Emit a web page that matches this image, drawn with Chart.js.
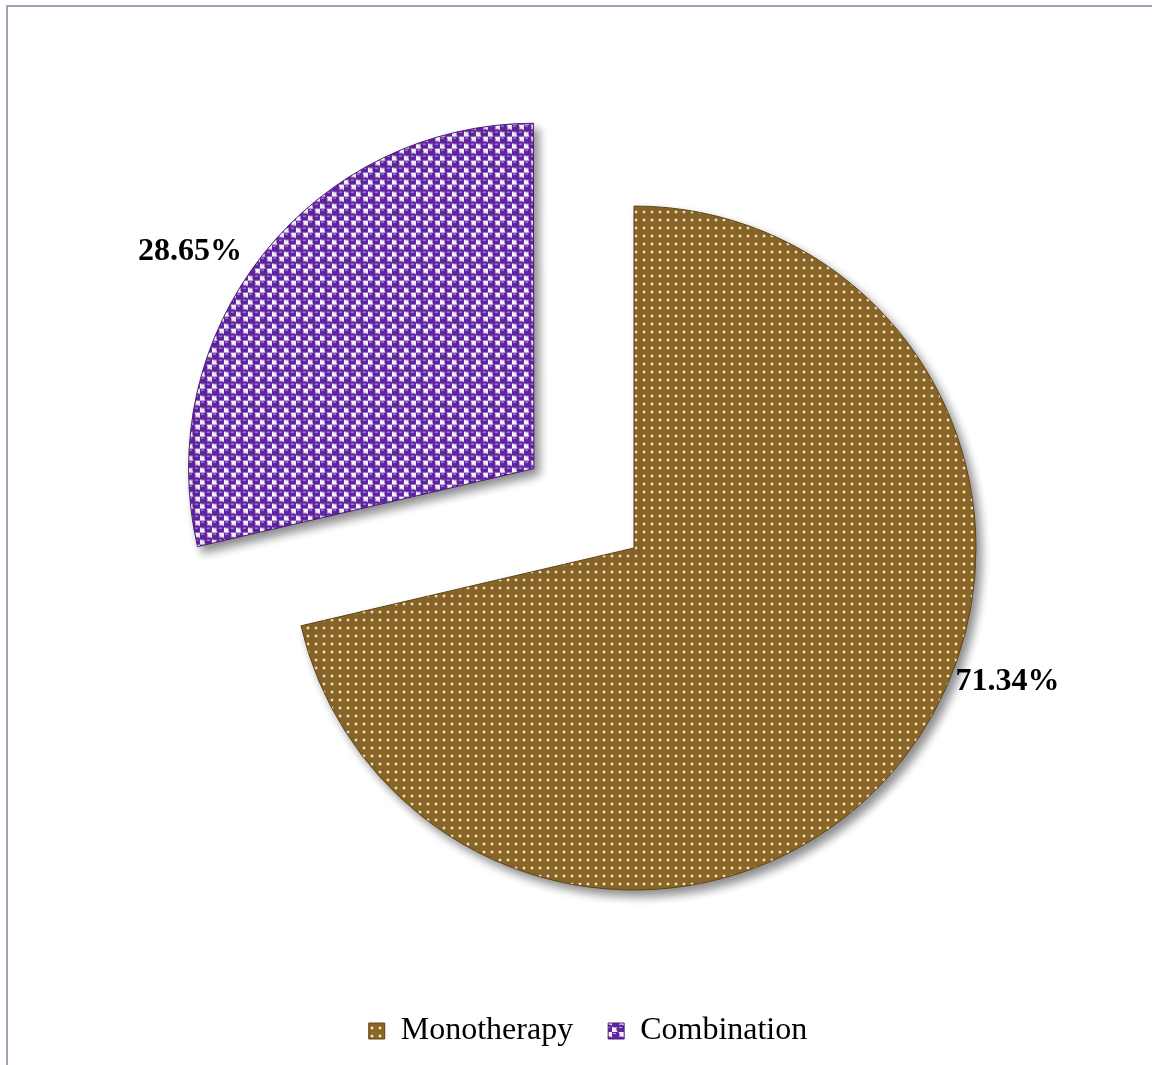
<!DOCTYPE html>
<html>
<head>
<meta charset="utf-8">
<title>Monotherapy vs Combination</title>
<script src="https://cdn.jsdelivr.net/npm/chart.js@4.4.1/dist/chart.umd.min.js"></script>
<style>
  html, body { margin: 0; padding: 0; background: #fff; }
  body { width: 1152px; height: 1065px; position: relative; overflow: hidden; }
  .frame {
    position: absolute; left: 6px; top: 5px; width: 1200px; height: 1100px;
    border-left: 2px solid #a3a1b3; border-top: 2px solid #a3a1b3;
  }
  .wrap { position: absolute; left: 0; top: 0; width: 1152px; height: 1065px; }
</style>
</head>
<body>
<div class="frame"></div>
<div class="wrap"><canvas id="pieChart"></canvas></div>
<script>
const labels = ['Monotherapy', 'Combination'];
const shares = [71.34, 28.65];
const valueLabels = ['71.34%', '28.65%'];

const serif = "'Times New Roman', 'Liberation Serif', serif";

// brown fill with a grid of small light dots
function dotPattern() {
  const c = document.createElement('canvas');
  c.width = 8; c.height = 8;
  const g = c.getContext('2d');
  g.fillStyle = '#8a6629';
  g.fillRect(0, 0, 8, 8);
  g.fillStyle = 'rgba(235, 205, 150, 0.35)';
  g.fillRect(2, 3, 4, 2);
  g.fillRect(3, 2, 2, 4);
  g.fillStyle = '#f7e6c4';
  g.fillRect(3, 3, 2, 2);
  return g.createPattern(c, 'repeat');
}

// purple beads on a white checkerboard
function beadPattern() {
  const c = document.createElement('canvas');
  c.width = 12; c.height = 12;
  const g = c.getContext('2d');
  g.fillStyle = '#f7f2fc';
  g.fillRect(0, 0, 12, 12);
  g.fillStyle = '#a986d0';
  g.fillRect(6, 0, 1, 12);
  g.fillRect(0, 6, 12, 1);
  [[3, 3], [9, 9]].forEach(([x, y]) => {
    g.fillStyle = '#6124a0';
    g.beginPath();
    g.arc(x, y, 4.6, 0, Math.PI * 2);
    g.fill();
    g.fillStyle = '#c4a6e6';
    g.fillRect(x - 2, y - 2, 3, 1);
  });
  return g.createPattern(c, 'repeat');
}

const fills = [dotPattern(), beadPattern()];
const edges = ['#5f4518', '#4a1c78'];

// soft drop shadow under the slices
const sliceShadow = {
  id: 'sliceShadow',
  beforeDatasetsDraw(chart) {
    const ctx = chart.ctx;
    ctx.save();
    ctx.shadowColor = 'rgba(0,0,0,0.45)';
    ctx.shadowBlur = 10;
    ctx.shadowOffsetX = 5;
    ctx.shadowOffsetY = 6;
  },
  afterDatasetsDraw(chart) {
    chart.ctx.restore();
  }
};

// move the pie to the right of the legend centre
const pieShift = {
  id: 'pieShift',
  afterLayout(chart, args, opts) {
    chart.chartArea.left += opts.dx * 2;
  }
};

// percentage text just outside each slice
const sliceLabels = {
  id: 'sliceLabels',
  afterDatasetsDraw(chart, args, opts) {
    const ctx = chart.ctx;
    const arcs = chart.getDatasetMeta(0).data;
    ctx.save();
    ctx.font = 'bold 32px ' + serif;
    ctx.fillStyle = '#000';
    ctx.textAlign = 'center';
    ctx.textBaseline = 'middle';
    arcs.forEach((arc, i) => {
      const p = arc.getProps(['x', 'y', 'startAngle', 'endAngle', 'outerRadius', 'circumference']);
      const mid = (p.startAngle + p.endAngle) / 2;
      const off = (arc.options.offset || 0) / 4;
      const push = off * (1 + 1 - Math.sin(Math.min(Math.PI, p.circumference)));
      const cx = p.x + Math.cos(mid) * push;
      const cy = p.y + Math.sin(mid) * push;
      const a = mid + opts.turn[i] * Math.PI / 180;
      const r = p.outerRadius * opts.dist[i];
      ctx.fillText(valueLabels[i], cx + Math.cos(a) * r, cy + Math.sin(a) * r);
    });
    ctx.restore();
  }
};

new Chart(document.getElementById('pieChart'), {
  type: 'pie',
  data: {
    labels: labels,
    datasets: [{
      data: shares,
      backgroundColor: fills,
      borderColor: edges,
      borderWidth: 1,
      offset: [0, 511]
    }]
  },
  options: {
    responsive: true,
    maintainAspectRatio: false,
    animation: false,
    radius: 342,
    layout: { padding: { top: 116, left: 24, right: 0, bottom: 8 } },
    plugins: {
      legend: {
        position: 'bottom',
        labels: {
          font: { family: serif, size: 32 },
          color: '#000',
          boxWidth: 16,
          boxHeight: 16,
          padding: 35
        }
      },
      tooltip: { enabled: false },
      pieShift: { dx: 46 },
      sliceLabels: { turn: [-18.7, -6.2], dist: [1.16, 1.18] }
    }
  },
  plugins: [sliceShadow, pieShift, sliceLabels]
});
</script>
</body>
</html>
